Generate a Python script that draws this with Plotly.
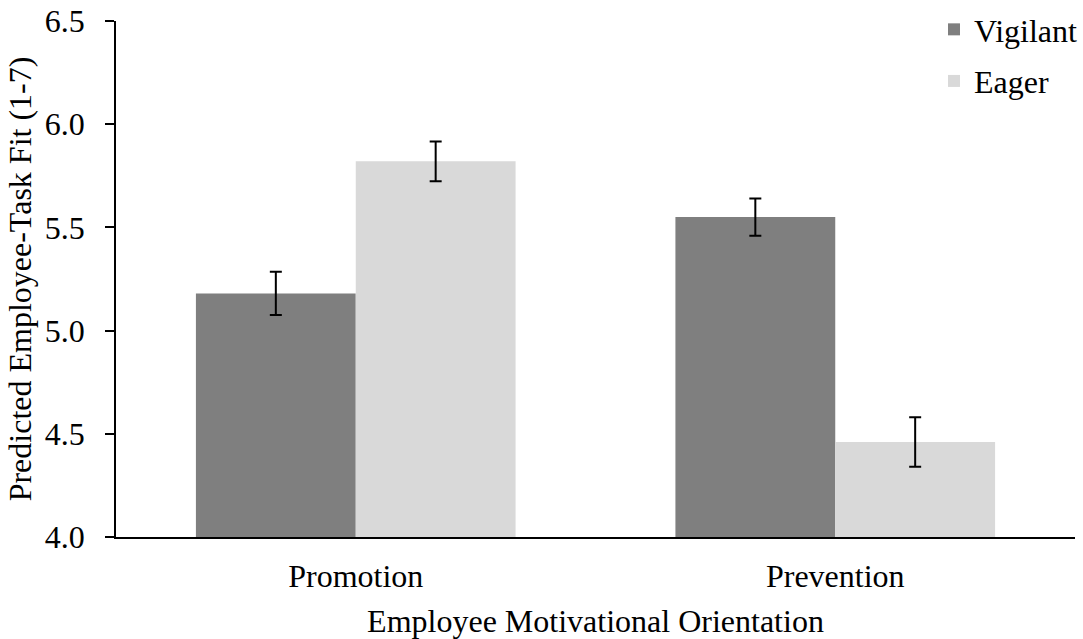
import plotly.graph_objects as go

categories = ["Promotion", "Prevention"]
vigilant = [5.18, 5.55]
vigilant_err = [0.105, 0.09]
eager = [5.82, 4.46]
eager_err = [0.096, 0.12]
y_ticks = [4.0, 4.5, 5.0, 5.5, 6.0, 6.5]

FONT = "Liberation Serif, Times New Roman, serif"
FS = 32
F = dict(family=FONT, size=FS, color="black")

fig = go.Figure()
fig.add_trace(go.Bar(
    name="Vigilant", x=categories, y=vigilant,
    marker=dict(color="#7f7f7f", line=dict(width=0)),
    error_y=dict(type="data", array=vigilant_err, color="black", thickness=2, width=6),
    legendgroup="a",
))
fig.add_trace(go.Bar(
    name="Eager", x=categories, y=eager,
    marker=dict(color="#d9d9d9", line=dict(width=0)),
    error_y=dict(type="data", array=eager_err, color="black", thickness=2, width=6),
    legendgroup="b",
))

fig.update_layout(
    width=1083, height=639,
    margin=dict(l=116, r=8, t=21, b=102, autoexpand=False),
    paper_bgcolor="white", plot_bgcolor="white",
    font=F,
    barmode="group", bargap=1/3, bargroupgap=0,
    showlegend=True,
    legend=dict(xref="container", yref="container", x=0.8624, xanchor="left",
                y=0.9968, yanchor="top",
                bgcolor="rgba(0,0,0,0)", traceorder="grouped",
                tracegroupgap=7, font=F),
    xaxis=dict(
        showline=True, linecolor="black", linewidth=2, ticks="",
        showgrid=False, zeroline=False, automargin=False,
        tickfont=F, ticklabelstandoff=10,
        title=dict(text="Employee Motivational Orientation", standoff=17, font=F),
    ),
    yaxis=dict(
        range=[4.0, 6.5], tickvals=y_ticks, tickformat=".1f",
        showline=True, linecolor="black", linewidth=1.5,
        ticks="outside", ticklen=9, tickwidth=1.5, tickcolor="black",
        showgrid=False, zeroline=False, automargin=False,
        tickfont=F, ticklabelstandoff=14,
        title=dict(text="Predicted Employee-Task Fit (1-7)", standoff=4, font=F),
    ),
)

fig.write_html("out.html", config={"displayModeBar": False},
               post_script="document.body.style.margin='0';")
